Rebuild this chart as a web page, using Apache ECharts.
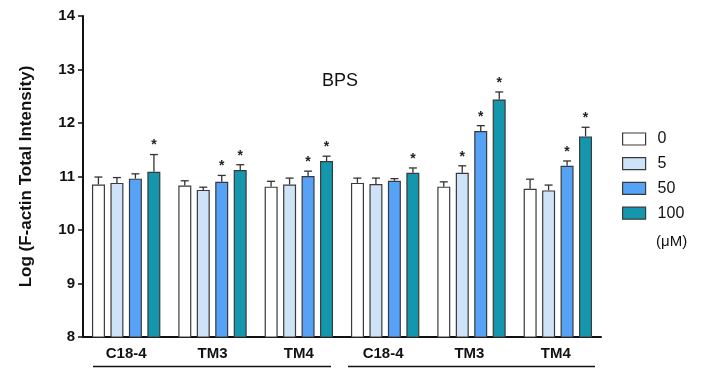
<!DOCTYPE html>
<html><head><meta charset="utf-8">
<script src="https://cdn.jsdelivr.net/npm/echarts@6/dist/echarts.min.js"></script>
<style>html,body{margin:0;padding:0;background:#fff}#c{width:714px;height:372px}</style>
</head><body><div id="c"></div>
<script>
const categories = ['C18-4','TM3','TM4','C18-4 ','TM3 ','TM4 '];
const seriesNames = ['0','5','50','100'];
const v0   = [10.85, 10.83, 10.81, 10.88, 10.81, 10.77];
const v5   = [10.88, 10.75, 10.85, 10.86, 11.07, 10.74];
const v50  = [10.96, 10.90, 11.01, 10.92, 11.85, 11.20];
const v100 = [11.09, 11.12, 11.29, 11.07, 12.44, 11.75];
const e0   = [10.99, 10.92, 10.91, 10.97, 10.90, 10.95];
const e5   = [10.98, 10.80, 10.97, 10.97, 11.20, 10.84];
const e50  = [11.05, 11.02, 11.10, 10.96, 11.95, 11.29];
const e100 = [11.41, 11.22, 11.38, 11.16, 12.58, 11.92];
const star0   = [0,0,0,0,0,0];
const star5   = [0,0,0,0,1,0];
const star50  = [0,1,1,0,1,1];
const star100 = [1,1,1,1,1,1];
const yTicks = [8, 9, 10, 11, 12, 13, 14];

const values = [v0, v5, v50, v100];
const errs = [e0, e5, e50, e100];
const stars = [star0, star5, star50, star100];
const colors = ['#ffffff', '#cfe3f8', '#55a2f7', '#1497ac'];
const BW = 13, PITCH = 18.5;

const chart = echarts.init(document.getElementById('c'));
const series = [];
values.forEach((vals, i) => {
  series.push({
    name: seriesNames[i], type: 'bar', data: vals, barWidth: BW, barGap: '42%', barCategoryGap: '20.6%',
    itemStyle: { color: colors[i], borderColor: '#3a3a3a', borderWidth: 1.2 },
    z: 2
  });
});
values.forEach((vals, i) => {
  series.push({
    type: 'custom', silent: true, z: 3,
    data: vals.map((v, k) => [k, v, errs[i][k], stars[i][k]]),
    renderItem: function (params, api) {
      const k = api.value(0);
      const base = api.coord([k, api.value(1)]);
      const top = api.coord([k, api.value(2)]);
      const x = base[0] + (i - 1.5) * PITCH;
      const children = [
        { type: 'line', shape: { x1: x, y1: base[1], x2: x, y2: top[1] }, style: { stroke: '#333', lineWidth: 1.3 } },
        { type: 'line', shape: { x1: x - 4, y1: top[1], x2: x + 4, y2: top[1] }, style: { stroke: '#333', lineWidth: 1.3 } }
      ];
      if (api.value(3)) {
        children.push({ type: 'text', style: { text: '*', x: x, y: top[1] - 2, textAlign: 'center', textVerticalAlign: 'bottom', fontSize: 14, fontWeight: 'bold', fill: '#222', fontFamily: 'Liberation Sans' } });
      }
      return { type: 'group', children: children };
    }
  });
});

chart.setOption({
  animation: false,
  textStyle: { fontFamily: 'Liberation Sans' },
  grid: { left: 83, right: 113, top: 16, bottom: 35, containLabel: false },
  legend: {
    data: seriesNames, orient: 'vertical', left: 622, top: 131, padding: 0,
    itemWidth: 23, itemHeight: 12, itemGap: 8.7,
    textStyle: { fontSize: 16, color: '#111', padding: [0, 0, 0, 7] }, icon: 'rect', selectedMode: false,
    itemStyle: { borderColor: '#3a3a3a', borderWidth: 1.2 }
  },
  xAxis: {
    type: 'category', data: categories,
    axisLine: { lineStyle: { color: '#111', width: 2 } },
    axisTick: { alignWithLabel: true, length: 5, lineStyle: { color: '#111', width: 1.5 } },
    axisLabel: { fontSize: 15, fontWeight: 'bold', color: '#111', margin: 9 }
  },
  yAxis: {
    type: 'value', min: 8, max: 14, interval: 1,
    name: 'Log (F-actin Total Intensity)', nameLocation: 'middle', nameGap: 48,
    nameTextStyle: { fontSize: 17, fontWeight: 'bold', color: '#111' },
    axisLine: { show: true, lineStyle: { color: '#111', width: 2 } },
    axisTick: { show: true, length: 5, lineStyle: { color: '#111', width: 1.5 } },
    axisLabel: { fontSize: 15, fontWeight: 'bold', color: '#111', margin: 8, formatter: v => yTicks.includes(v) ? String(v) : '' },
    splitLine: { show: false }
  },
  graphic: [
    { type: 'text', left: 322, top: 72, style: { text: 'BPS', fontSize: 18, fill: '#111', fontFamily: 'Liberation Sans' } },
    { type: 'text', left: 656, top: 234, style: { text: '(\u03bcM)', fontSize: 15, fill: '#111', fontFamily: 'Liberation Sans' } },
    { type: 'line', shape: { x1: 93, y1: 366.5, x2: 331, y2: 366.5 }, style: { stroke: '#111', lineWidth: 1.5 } },
    { type: 'line', shape: { x1: 348, y1: 366.5, x2: 595, y2: 366.5 }, style: { stroke: '#111', lineWidth: 1.5 } }
  ],
  series: series
});
</script></body></html>
